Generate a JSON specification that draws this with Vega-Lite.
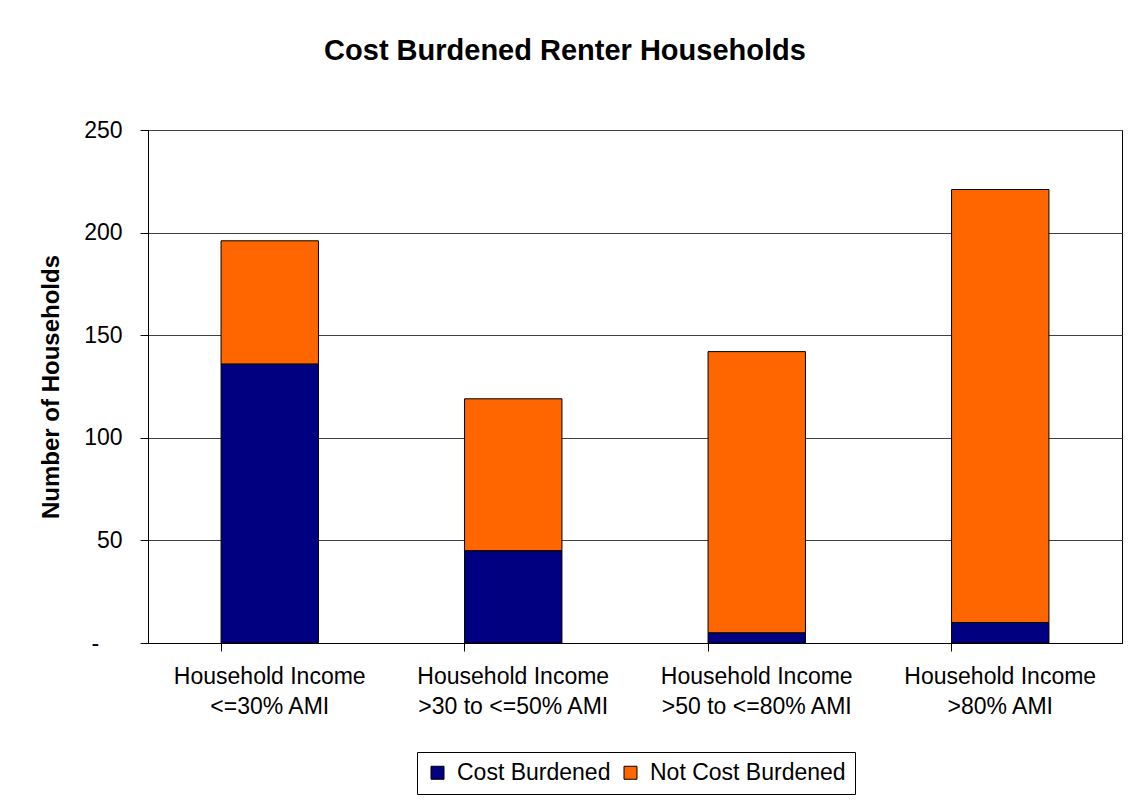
{
  "$schema": "https://vega.github.io/schema/vega-lite/v6.json",
  "autosize": {"type": "none"},
  "width": 974,
  "height": 513,
  "padding": {"left": 148, "top": 130, "right": 9, "bottom": 157},
  "background": "white",
  "title": {
    "text": "Cost Burdened Renter Households",
    "font": "Liberation Sans",
    "fontSize": 29,
    "fontWeight": "bold",
    "color": "black",
    "anchor": "middle",
    "frame": "group",
    "baseline": "alphabetic",
    "dx": -70,
    "offset": 30
  },
  "data": {
    "values": [
      {"category": "Household Income|<=30% AMI", "status": "Cost Burdened", "households": 136},
      {"category": "Household Income|<=30% AMI", "status": "Not Cost Burdened", "households": 60},
      {"category": "Household Income|>30 to <=50% AMI", "status": "Cost Burdened", "households": 45},
      {"category": "Household Income|>30 to <=50% AMI", "status": "Not Cost Burdened", "households": 74},
      {"category": "Household Income|>50 to <=80% AMI", "status": "Cost Burdened", "households": 5},
      {"category": "Household Income|>50 to <=80% AMI", "status": "Not Cost Burdened", "households": 137},
      {"category": "Household Income|>80% AMI", "status": "Cost Burdened", "households": 10},
      {"category": "Household Income|>80% AMI", "status": "Not Cost Burdened", "households": 211}
    ]
  },
  "mark": {"type": "bar", "stroke": "black", "strokeWidth": 1},
  "encoding": {
    "x": {
      "field": "category",
      "type": "nominal",
      "sort": null,
      "scale": {"paddingInner": 0.6, "paddingOuter": 0.3},
      "axis": {
        "title": null,
        "labelAngle": 0,
        "labelExpr": "split(datum.label, '|')",
        "labelLineHeight": 30,
        "labelLimit": 0,
        "labelFont": "Liberation Sans",
        "labelFontSize": 23,
        "labelColor": "black",
        "labelPadding": 14,
        "tickSize": 8,
        "tickColor": "black",
        "domainColor": "black",
        "bandPosition": 0,
        "grid": false
      }
    },
    "y": {
      "field": "households",
      "type": "quantitative",
      "stack": "zero",
      "scale": {"domain": [0, 250], "nice": false},
      "axis": {
        "title": "Number of Households",
        "titleFont": "Liberation Sans",
        "titleFontSize": 24,
        "titleFontWeight": "bold",
        "titleColor": "black",
        "titlePadding": 20,
        "values": [0, 50, 100, 150, 200, 250],
        "labelExpr": "datum.value == 0 ? '-\u00a0\u2800' : datum.label",
        "labelFont": "Liberation Sans",
        "labelFontSize": 23,
        "labelColor": "black",
        "labelPadding": 18,
        "tickSize": 8,
        "tickColor": "black",
        "domainColor": "black",
        "grid": true,
        "gridColor": "#404040",
        "gridWidth": 1
      }
    },
    "color": {
      "field": "status",
      "type": "nominal",
      "scale": {"domain": ["Cost Burdened", "Not Cost Burdened"], "range": ["#000080", "#FF6600"]},
      "legend": {
        "title": null,
        "orient": "none",
        "direction": "horizontal",
        "legendX": 269,
        "legendY": 622,
        "strokeColor": "black",
        "fillColor": "white",
        "padding": 9,
        "symbolType": "square",
        "symbolSize": 169,
        "symbolStrokeColor": "black",
        "symbolStrokeWidth": 1,
        "symbolOpacity": 1,
        "labelFont": "Liberation Sans",
        "labelFontSize": 23,
        "labelLimit": 0,
        "labelColor": "black",
        "labelOffset": 8,
        "columnPadding": 8
      }
    },
    "order": {"field": "status", "sort": "ascending"}
  },
  "config": {
    "view": {"stroke": "black", "strokeWidth": 1}
  }
}
